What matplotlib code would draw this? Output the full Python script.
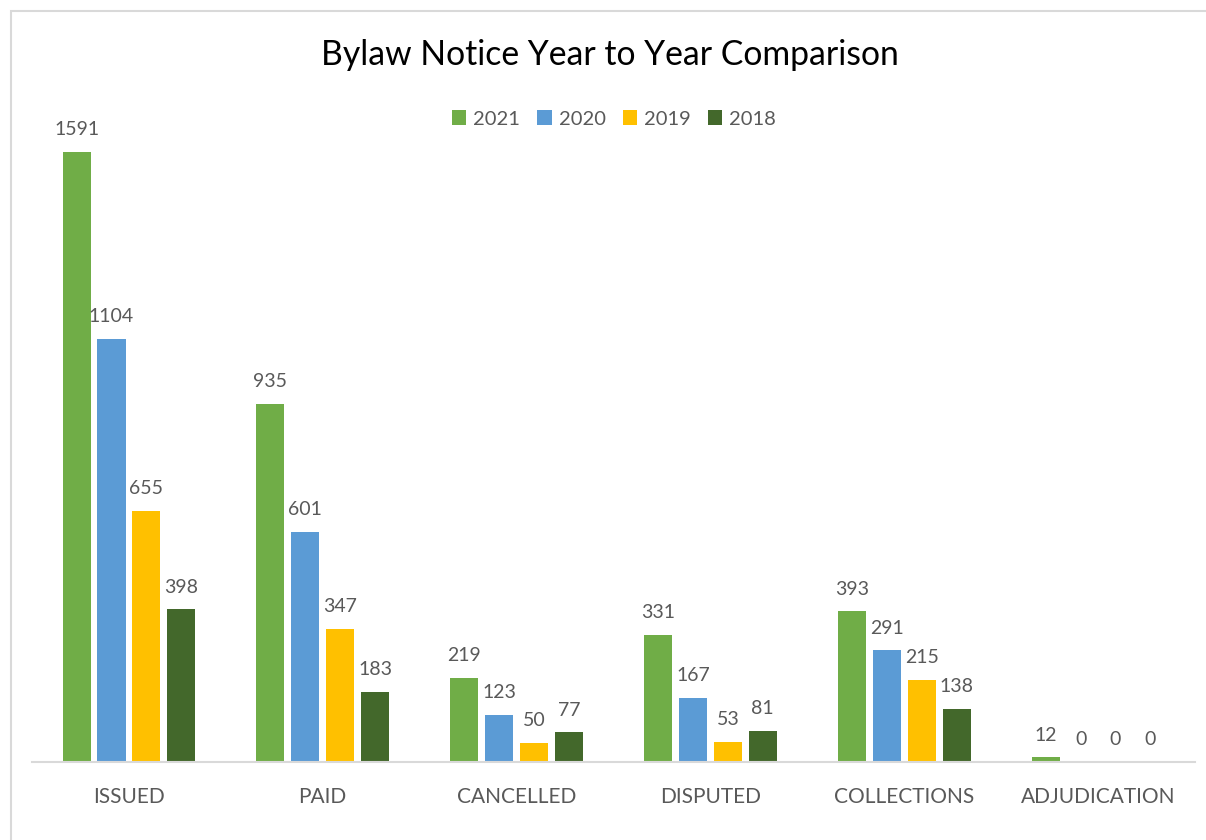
import matplotlib.pyplot as plt
import matplotlib.patches as mpatches
import numpy as np

categories = ["ISSUED", "PAID", "CANCELLED", "DISPUTED", "COLLECTIONS", "ADJUDICATION"]
years = ["2021", "2020", "2019", "2018"]
v2021 = [1591, 935, 219, 331, 393, 12]
v2020 = [1104, 601, 123, 167, 291, 0]
v2019 = [655, 347, 50, 53, 215, 0]
v2018 = [398, 183, 77, 81, 138, 0]

colors = ["#70AD47", "#5B9BD5", "#FFC000", "#43682B"]
txt = "#595959"
plt.rcParams['font.family'] = ['Lato', 'DejaVu Sans']

fig = plt.figure(figsize=(12.06, 8.4), dpi=100)
# chart frame
fig.patches.append(mpatches.Rectangle((11 / 1206, -0.1), 1.2, (840 - 11) / 840 + 0.1,
                                      transform=fig.transFigure, fill=False,
                                      edgecolor="#D9D9D9", linewidth=1.5))
ax = fig.add_axes([32 / 1206, 78 / 840, (1195 - 32) / 1206, (762 - 72) / 840])

x = np.arange(len(categories))
width = 0.145
step = 0.18
series = [v2021, v2020, v2019, v2018]
for i, (vals, c, yr) in enumerate(zip(series, colors, years)):
    pos = x + (i - 1.5) * step
    bars = ax.bar(pos, vals, width, color=c, label=yr)
    for b, v in zip(bars, vals):
        ax.text(b.get_x() + b.get_width() / 2, v + 36, str(v), ha="center",
                va="bottom", fontsize=14, color=txt)

ax.set_xlim(-0.5, len(categories) - 0.5)
ax.set_ylim(0, 1800)
ax.set_yticks([])
ax.set_xticks(x, labels=categories)
ax.tick_params(axis="x", length=0, pad=18, labelsize=15, labelcolor=txt)
for s in ["top", "right", "left"]:
    ax.spines[s].set_visible(False)
ax.spines["bottom"].set_color("#D9D9D9")
ax.spines["bottom"].set_linewidth(1.5)

fig.text(610 / 1206, 1 - 55 / 840, "Bylaw Notice Year to Year Comparison",
         ha="center", va="center", fontsize=24.3, color="#000000")
fig.legend(loc="center", bbox_to_anchor=(614 / 1206, 1 - 119 / 840), ncol=4,
           frameon=False, fontsize=14.5, labelcolor=txt, handlelength=0.7,
           handleheight=0.7, handletextpad=0.35, columnspacing=0.85)

fig.savefig("out.png", dpi=100)
